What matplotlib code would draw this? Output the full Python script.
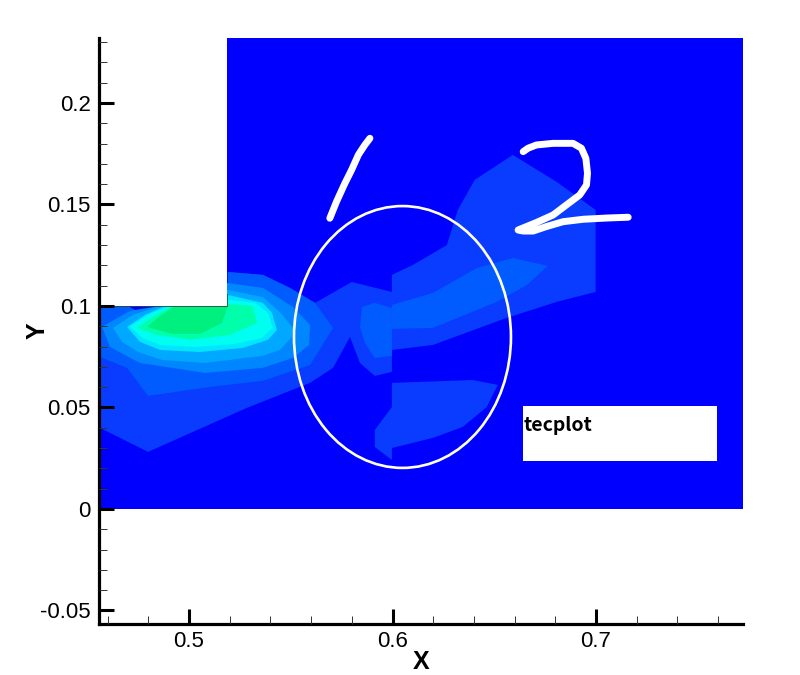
import matplotlib
matplotlib.use("Agg")
import matplotlib.pyplot as plt
from matplotlib.patches import Ellipse, Rectangle

XLIM = (0.4558, 0.7722)
YLIM = (-0.0567, 0.2320)
x_major = [0.5, 0.6, 0.7]
x_labels = ["0.5", "0.6", "0.7"]
x_minor = [0.46, 0.48, 0.52, 0.54, 0.56, 0.58, 0.62, 0.64, 0.66, 0.68, 0.72, 0.74, 0.76]
y_major = [-0.05, 0, 0.05, 0.1, 0.15, 0.2]
y_labels = ["-0.05", "0", "0.05", "0.1", "0.15", "0.2"]
y_minor = [-0.04, -0.03, -0.02, -0.01, 0.01, 0.02, 0.03, 0.04, 0.06, 0.07, 0.08, 0.09,
           0.11, 0.12, 0.13, 0.14, 0.16, 0.17, 0.18, 0.19, 0.21, 0.22, 0.23]

level_colors = ["#0000ff", "#0a3cff", "#005cff", "#0086ff", "#00a8ff", "#00e6ff",
                "#00fff0", "#00ffaa", "#00f080"]

field_x = [0.4558, 0.7722, 0.7722, 0.4558]
field_y = [0.0, 0.0, 0.2320, 0.2320]

band1 = [(.4563,.0399),(.4799,.0281),(.5285,.0498),(.5595,.0621),(.5708,.0695),(.5791,.0847),
         (.5840,.0719),(.5913,.0655),(.5997,.0675),(.5997,.0783),(.6199,.0808),(.6561,.0941),
         (.6807,.1020),(.6998,.1069),(.6998,.1473),(.6807,.1611),(.6591,.1744),(.6404,.1621),
         (.6321,.1473),(.6267,.1300),(.6100,.1202),(.5997,.1153),(.5997,.1069),(.5800,.1118),
         (.5619,.1015),(.5496,.1089),(.5363,.1153),(.5191,.1167),(.5191,.1),(.4563,.1)]
band1_lower = [(.5997,.0621),(.6394,.0635),(.6517,.0611),(.6463,.0502),(.6345,.0404),(.6199,.0350),
               (.5997,.0300),(.5997,.0241),(.5913,.0305),(.5913,.0389),(.5997,.0502)]
band2 = [(.4563,.0749),(.4696,.0695),(.4799,.0557),(.5103,.0601),(.5363,.0631),(.5595,.0709),
         (.5708,.0892),(.5619,.1015),(.5496,.1089),(.5363,.1153),(.5191,.1167),(.5191,.1),(.4563,.1)]
band2_lobe = [(.5850,.0995),(.5913,.1015),(.5997,.0990),(.5997,.0754),(.5913,.0744),(.5864,.0818),(.5840,.0897)]
band2_right = [(.5997,.1005),(.6199,.1064),(.6415,.1187),(.6591,.1236),(.6763,.1197),(.6660,.1103),
               (.6512,.1020),(.6199,.0892),(.5997,.0887)]
band3 = [(.4573,.0897),(.4612,.0798),(.4759,.0719),(.5079,.0670),(.5363,.0695),(.5511,.0744),
         (.5590,.0808),(.5595,.0906),(.5511,.0995),(.5363,.1089),(.5191,.1113),(.4784,.1),(.4700,.0970)]
band4 = [(.5191,.1079),(.5363,.1044),(.5447,.0970),(.5511,.0892),(.5506,.0847),(.5447,.0783),
         (.5363,.0754),(.5079,.0719),(.4867,.0734),(.4750,.0773),(.4671,.0823),(.4627,.0892),
         (.4725,.0956),(.4858,.1)]
band5 = [(.5191,.1054),(.5363,.1015),(.5408,.0966),(.5432,.0882),(.5388,.0833),(.5265,.0793),
         (.5054,.0773),(.4858,.0783),(.4759,.0823),(.4696,.0897),(.4784,.0956),(.4882,.1)]
band6 = [(.5191,.1030),(.5324,.1015),(.5388,.0966),(.5412,.0892),(.5358,.0842),(.5226,.0813),
         (.5029,.0798),(.4858,.0808),(.4774,.0842),(.4710,.0897),(.4808,.0961),(.4907,.1)]
band7 = [(.5191,.1010),(.5314,.1),(.5334,.0916),(.5201,.0857),(.5005,.0833),(.4843,.0857),
         (.4745,.0892),(.4823,.0946),(.4921,.1)]
band8 = [(.4794,.0897),(.4917,.0862),(.5054,.0862),(.5162,.0916),(.5191,.1),(.4931,.1),(.4858,.0951)]
wedge = [(.4700,.1),(.4858,.1),(.4735,.098)]

stroke_one = [(.5889,.1826),(.5864,.1793),(.5832,.1744),(.5799,.1670),(.5766,.1604),(.5725,.1514),(.5692,.1432)]
stroke_two = [(.6642,.1760),(.6666,.1777),(.6707,.1793),(.6789,.1801),(.6887,.1801),(.6928,.1777),
              (.6950,.1727),(.6958,.1654),(.6953,.1596),(.6920,.1547),(.6855,.1498),(.6789,.1448),
              (.6707,.1411),(.6617,.1374),(.6642,.1369),(.6691,.1369),(.6756,.1391),(.6838,.1415),
              (.6937,.1427),(.7051,.1433),(.7158,.1437)]

circle_center = (0.6049, 0.0847)
circle_w, circle_h = 0.1066, 0.1290
step_box = (0.4558, 0.1, 0.5187 - 0.4558, 0.2320 - 0.1)
note_box = (0.6640, 0.0236, 0.7595 - 0.6640, 0.0507 - 0.0236)
note_text = "tecplot"

plt.rcParams["font.family"] = ["Liberation Sans", "DejaVu Sans"]
fig = plt.figure(figsize=(8, 6.75), dpi=100)
ax = fig.add_axes([99 / 800, 51 / 675, 644 / 800, 586 / 675])
ax.set_xlim(*XLIM)
ax.set_ylim(*YLIM)


def poly(points, level, z):
    xs, ys = zip(*points)
    ax.fill(xs, ys, color=level_colors[level], lw=0, zorder=z)


ax.fill(field_x, field_y, color=level_colors[0], lw=0, zorder=1)
for z, (pts, lev) in enumerate([(band1, 1), (band1_lower, 1), (band2, 2), (band2_lobe, 2),
                                (band2_right, 2), (band3, 3), (band4, 4), (band5, 5),
                                (band6, 6), (band7, 7), (band8, 8), (wedge, 0)], start=2):
    poly(pts, lev, z)

ax.add_patch(Rectangle(step_box[:2], step_box[2], step_box[3], fc="white", ec="none", zorder=20))
ax.plot([step_box[0], step_box[0] + step_box[2], step_box[0] + step_box[2]],
        [step_box[1], step_box[1], step_box[1] + 0.006], color="#2a4a3a", lw=0.6, zorder=20.5)
ax.add_patch(Rectangle(note_box[:2], note_box[2], note_box[3], fc="white", ec="none", zorder=20))
ax.text(note_box[0] + 0.0003, 0.0410, note_text, family="Noto Sans CJK SC", fontweight="bold", fontsize=14,
        va="center", ha="left", color="black", zorder=21)
ax.add_patch(Ellipse(circle_center, circle_w, circle_h, fc="none", ec="white", lw=1.9, zorder=22))
for s in (stroke_one, stroke_two):
    xs, ys = zip(*s)
    ax.plot(xs, ys, color="white", lw=5, solid_capstyle="round", solid_joinstyle="round", zorder=23)

for side in ("top", "right"):
    ax.spines[side].set_visible(False)
for side in ("left", "bottom"):
    ax.spines[side].set_linewidth(2.3)
    ax.spines[side].set_zorder(30)

ax.set_xticks(x_major, x_labels)
ax.set_yticks(y_major, y_labels)
ax.set_xticks(x_minor, minor=True)
ax.set_yticks(y_minor, minor=True)
ax.tick_params(which="major", direction="in", length=11, width=2.2, labelsize=16)
ax.tick_params(which="minor", direction="in", length=5.5, width=0.7, color="#333333")
ax.tick_params(axis="x", which="major", pad=5)
ax.tick_params(axis="y", which="major", pad=6)
ax.xaxis.set_zorder(30)
ax.yaxis.set_zorder(30)
ax.set_xlabel("X", fontweight="bold", fontsize=18, va="center")
ax.set_ylabel("Y", fontweight="bold", fontsize=18, va="center")
ax.xaxis.set_label_coords((421 - 99) / 644, -(662 - 624) / 586)
ax.yaxis.set_label_coords((38 - 99) / 644, 0.5)
fig.savefig("out.png", dpi=100)
